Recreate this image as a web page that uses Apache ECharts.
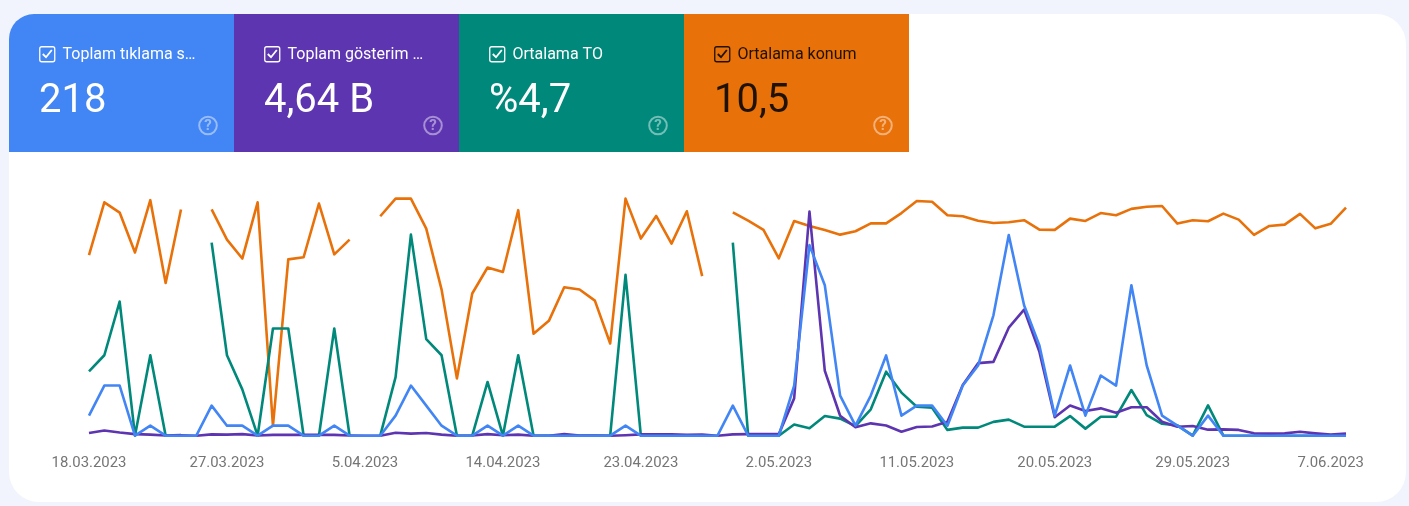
<!DOCTYPE html>
<html>
<head>
<meta charset="utf-8">
<style>
html,body{margin:0;padding:0;background:#f1f4fc;}
#c{width:1409px;height:506px;}
</style>
<script src="https://cdn.jsdelivr.net/npm/echarts@6/dist/echarts.min.js"></script>
</head>
<body>
<div id="c"></div>
<script>
const categories = [
"18.03.2023","19.03.2023","20.03.2023","21.03.2023","22.03.2023","23.03.2023","24.03.2023","25.03.2023","26.03.2023","27.03.2023","28.03.2023","29.03.2023","30.03.2023","31.03.2023",
"1.04.2023","2.04.2023","3.04.2023","4.04.2023","5.04.2023","6.04.2023","7.04.2023","8.04.2023","9.04.2023","10.04.2023","11.04.2023","12.04.2023","13.04.2023","14.04.2023","15.04.2023","16.04.2023","17.04.2023","18.04.2023","19.04.2023","20.04.2023","21.04.2023","22.04.2023","23.04.2023","24.04.2023","25.04.2023","26.04.2023","27.04.2023","28.04.2023","29.04.2023","30.04.2023",
"1.05.2023","2.05.2023","3.05.2023","4.05.2023","5.05.2023","6.05.2023","7.05.2023","8.05.2023","9.05.2023","10.05.2023","11.05.2023","12.05.2023","13.05.2023","14.05.2023","15.05.2023","16.05.2023","17.05.2023","18.05.2023","19.05.2023","20.05.2023","21.05.2023","22.05.2023","23.05.2023","24.05.2023","25.05.2023","26.05.2023","27.05.2023","28.05.2023","29.05.2023","30.05.2023","31.05.2023",
"1.06.2023","2.06.2023","3.06.2023","4.06.2023","5.06.2023","6.06.2023","7.06.2023","8.06.2023"];

const clicks = [2,5,5,0,1,0,0,0,3,1,1,0,1,1,0,0,1,0,0,0,2,5,3,1,0,0,1,0,1,0,0,0,0,0,0,1,0,0,0,0,0,0,3,0,0,0,5,19,15,4,1,4,8,2,3,3,1,5,7,12,20,13,9,2,7,2,6,5,15,7,2,1,0,2,0,0,0,0,0,0,0,0,0];

const impressions = [10,20,12,6,4,1,2,0,5,4,6,1,3,3,3,3,3,1,0,0,11,8,10,4,0,1,6,2,4,0,0,6,1,1,0,2,5,5,5,3,4,0,5,6,6,6,142,853,247,76,32,47,39,15,33,35,53,193,276,281,411,480,319,70,115,94,104,87,108,108,53,34,37,23,24,22,9,8,9,15,9,4,8];

const ctr = [20,25,41.7,0,25,0,0,null,60,25,14.4,0,33.3,33.3,0,0,33.3,0,null,0,18.2,62.5,30,25,0,0,16.7,0,25,0,0,0,0,0,0,50,0,0,0,0,0,null,60,0,0,0,3.5,2.3,6.1,5.3,3,8.2,19.9,13.4,9,8.7,1.8,2.5,2.5,4.3,5,2.8,2.8,2.8,6.1,2.2,5.9,5.9,14.2,6.4,3.7,3.2,0,9.4,0,0,0,0,0,0,0,0,0];

const position = [23.5,3.4,7.3,22.5,2.6,34.1,6.1,null,6.1,17.6,24.8,3.4,88.5,25.1,24.3,3.9,23.2,17.6,null,8.7,2,2,13.4,36.6,70.4,38.1,28.2,29.9,6.4,53.4,48.5,35.7,36.6,40.8,57.1,2,17.2,8.6,19.1,6.8,31.5,null,7.2,10.4,13.9,24.7,10.5,12.4,13.9,15.7,14.4,11.4,11.4,7.5,2.9,3.2,8.3,8.7,10.4,11.3,11,10.2,13.8,13.9,9.6,10.5,7.5,8.3,5.9,5.1,4.8,11.5,10.2,10.6,7.7,10,15.8,12.4,11.9,7.8,13.3,11.6,5.4];

const cardTitles = ["Toplam tıklama s…","Toplam gösterim …","Ortalama TO","Ortalama konum"];
const cardValues = ["218","4,64 B","%4,7","10,5"];

const BLUE="#4285f4", PURPLE="#5e35b1", GREEN="#00897b", ORANGE="#e8710a";
const cardColors=[BLUE,PURPLE,GREEN,ORANGE];
const cardInk=["#fff","#fff","#fff","#1f1200"];
const FONT="Roboto";

const graphic=[{type:'rect',shape:{x:9,y:14,width:1397,height:488,r:30},style:{fill:'#fff'},z:0}];
cardTitles.forEach((t,i)=>{
  const o=225*i, ink=cardInk[i];
  graphic.push({type:'rect',shape:{x:9+o,y:14,width:225,height:138,r:i===0?[25,0,0,0]:0},style:{fill:cardColors[i]},z:1});
  graphic.push({type:'rect',shape:{x:39.75+o,y:46.75,width:15,height:15,r:2},style:{fill:'none',stroke:ink,lineWidth:1.3},z:2});
  graphic.push({type:'polyline',shape:{points:[[42.8+o,54],[46+o,57.2],[51.8+o,50]]},style:{fill:'none',stroke:ink,lineWidth:1.8},z:2});
  graphic.push({type:'text',style:{x:62.5+o,y:54.7,text:t,fill:ink,font:'400 16px '+FONT,textVerticalAlign:'middle',textBaseline:'middle'},z:2});
  graphic.push({type:'text',style:{x:39+o,y:102,text:cardValues[i],fill:ink,font:'400 40px '+FONT,textVerticalAlign:'middle',textBaseline:'middle'},z:2});
  graphic.push({type:'circle',shape:{cx:208+o,cy:125.5,r:8.8},style:{fill:'none',stroke:'#fff',lineWidth:2,opacity:0.45},z:2});
  graphic.push({type:'text',style:{x:208+o,y:126.5,text:'?',fill:'#fff',opacity:0.45,font:'700 15px '+FONT,textAlign:'center',textVerticalAlign:'middle',textBaseline:'middle'},z:2});
});

const hiddenY=(extra)=>Object.assign({type:'value',show:false,splitLine:{show:false}},extra);
const line=(name,data,color,yAxisIndex,z)=>({name,type:'line',data,yAxisIndex,z,
  showSymbol:false,symbol:'none',connectNulls:false,smooth:false,
  lineStyle:{color,width:2.6,join:'round'},itemStyle:{color},silent:true});

const chart=echarts.init(document.getElementById('c'),null,{width:1409,height:506});
chart.setOption({
  animation:false,
  backgroundColor:'transparent',
  graphic:graphic,
  grid:{left:89,right:63,top:196,bottom:70.3,containLabel:false},
  xAxis:{type:'category',data:categories,boundaryGap:false,
    axisLine:{show:false},axisTick:{show:false},splitLine:{show:false},
    axisLabel:{interval:8,color:'#757575',fontFamily:FONT,fontSize:14.9,margin:20,hideOverlap:false,showMinLabel:true}},
  yAxis:[
    hiddenY({min:0,max:23.9}),
    hiddenY({min:0,max:912}),
    hiddenY({min:0,max:74.5}),
    hiddenY({min:1,max:92.2,inverse:true})
  ],
  series:[
    line('Ortalama konum',position,ORANGE,3,2),
    line('Ortalama TO',ctr,GREEN,2,3),
    line('Toplam gösterim',impressions,PURPLE,1,4),
    line('Toplam tıklama',clicks,BLUE,0,5)
  ]
});
</script>
</body>
</html>
